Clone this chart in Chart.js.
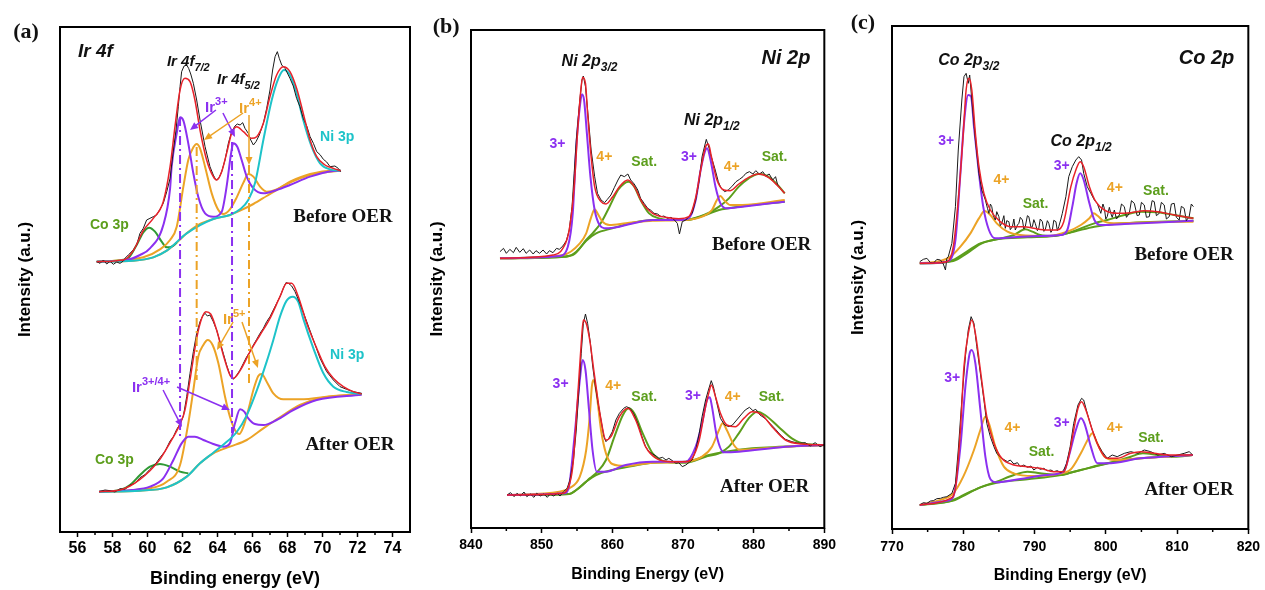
<!DOCTYPE html>
<html>
<head>
<meta charset="utf-8">
<title>XPS Ir 4f / Ni 2p / Co 2p</title>
<script src="https://cdn.jsdelivr.net/npm/chart.js@4.4.1/dist/chart.umd.min.js"></script>
<style>
  body { margin: 0; background: #fff; width: 1265px; height: 590px; position: relative; overflow: hidden; }
  .panel { position: absolute; top: 0; height: 590px; }
</style>
</head>
<body>
<div class="panel" style="left:0;width:420px"><canvas id="chartA"></canvas></div>
<div class="panel" style="left:420px;width:420px"><canvas id="chartB"></canvas></div>
<div class="panel" style="left:840px;width:425px"><canvas id="chartC"></canvas></div>
<script>
// ---- tick labels ----
const aTicks = [56, 58, 60, 62, 64, 66, 68, 70, 72, 74];
const aMinor = [57, 59, 61, 63, 65, 67, 69, 71, 73];
const bTicks = [840, 850, 860, 870, 880, 890];
const bMinor = [845, 855, 865, 875, 885];
const cTicks = [770, 780, 790, 800, 810, 820];
const cMinor = [775, 785, 795, 805, 815];

// ---- (a) Ir 4f, before OER  [eV, intensity] ----
const aBeforeRaw = [[57.10,811],[57.29,806],[57.48,816],[57.67,804],[57.86,812],[58.05,803],[58.24,810],[58.43,806],[58.62,813],[58.71,821],[58.90,831],[59.19,846],[59.38,861],[59.57,896],[59.76,911],[59.95,936],[60.14,941],[60.33,946],[60.52,951],[60.71,968],[60.90,986],[61.10,1021],[61.29,1061],[61.48,1146],[61.63,1206],[61.76,1276],[61.86,1336],[61.95,1381],[62.09,1398],[62.24,1401],[62.35,1391],[62.47,1374],[62.62,1346],[62.81,1296],[63.00,1236],[63.29,1156],[63.57,1096],[63.76,1071],[63.91,1056],[64.07,1061],[64.24,1081],[64.43,1116],[64.62,1166],[64.81,1201],[65.00,1218],[65.13,1224],[65.29,1221],[65.44,1228],[65.57,1211],[65.76,1196],[65.90,1176],[66.05,1161],[66.20,1171],[66.39,1191],[66.62,1226],[66.81,1271],[67.00,1326],[67.15,1386],[67.29,1426],[67.42,1441],[67.53,1421],[67.67,1401],[67.86,1391],[68.14,1361],[68.33,1338],[68.52,1301],[68.71,1276],[68.90,1241],[69.10,1218],[69.29,1186],[69.48,1166],[69.67,1141],[69.86,1132],[70.05,1118],[70.24,1110],[70.43,1096],[70.71,1098],[70.90,1091],[71.04,1081]];
const aBeforeFit = [[57.10,811],[58.62,816],[59.19,844],[59.76,904],[60.33,941],[60.90,991],[61.29,1096],[61.57,1216],[61.86,1326],[62.14,1361],[62.43,1351],[62.71,1296],[63.00,1206],[63.38,1116],[63.76,1066],[63.95,1056],[64.24,1081],[64.52,1136],[64.81,1196],[65.10,1216],[65.48,1201],[65.95,1181],[66.24,1186],[66.62,1226],[67.00,1306],[67.38,1371],[67.76,1396],[68.14,1381],[68.52,1331],[68.90,1256],[69.29,1176],[69.67,1126],[70.14,1101],[70.62,1091],[71.04,1084]];
const aBeforeIr3 = [[57.10,811],[58.81,816],[59.57,831],[60.14,851],[60.90,920],[61.29,1030],[61.38,1096],[61.67,1196],[61.86,1244],[62.05,1234],[62.33,1166],[62.62,1076],[62.90,1006],[63.29,956],[63.76,946],[64.24,961],[64.52,1036],[64.77,1134],[64.90,1166],[65.13,1156],[65.38,1116],[65.67,1066],[66.05,1031],[66.62,1016],[67.38,1026],[68.14,1041],[69.29,1066],[70.62,1083],[71.04,1084]];
const aBeforeIr4 = [[57.10,811],[59.76,824],[60.71,848],[61.29,876],[61.67,916],[62.05,1036],[62.33,1116],[62.62,1154],[62.81,1164],[63.00,1151],[63.29,1096],[63.67,1016],[64.05,966],[64.33,954],[64.71,968],[65.10,1004],[65.48,1048],[65.76,1074],[66.05,1066],[66.43,1036],[66.81,1021],[67.38,1028],[68.14,1051],[69.29,1074],[70.62,1084],[71.04,1084]];
const aBeforeCo = [[57.10,811],[58.81,818],[59.38,861],[59.76,899],[60.10,913],[60.43,901],[60.81,871],[61.10,854],[61.38,856],[61.67,868]];
const aBeforeNi = [[57.10,811],[59.19,814],[60.33,824],[61.10,844],[62.24,896],[63.76,939],[64.71,951],[65.29,968],[65.76,996],[66.14,1046],[66.62,1176],[67.10,1296],[67.48,1361],[67.80,1386],[68.14,1371],[68.52,1316],[68.90,1236],[69.38,1156],[69.86,1106],[70.43,1088],[71.04,1084]];
const aBeforeBg = [[57.10,811],[59.19,814],[60.33,824],[61.10,844],[61.67,868],[62.24,896],[63.00,924],[63.76,939],[64.71,951],[65.29,964],[66.05,984],[66.81,1008],[67.76,1038],[68.71,1061],[69.67,1076],[71.04,1084]];

// ---- (a) Ir 4f, after OER ----
const aAfterRaw = [[57.23,121],[57.57,126],[57.86,124],[58.14,120],[58.43,130],[58.71,128],[59.00,141],[59.29,146],[59.57,163],[59.86,172],[60.14,188],[60.43,202],[60.71,223],[61.00,242],[61.29,273],[61.48,286],[61.67,308],[61.86,324],[62.05,348],[62.24,406],[62.43,476],[62.62,541],[62.81,596],[63.00,631],[63.15,648],[63.29,656],[63.42,648],[63.57,651],[63.76,631],[63.95,606],[64.14,571],[64.33,536],[64.52,501],[64.71,471],[64.90,458],[65.10,471],[65.29,486],[65.48,506],[65.67,526],[65.86,541],[66.05,561],[66.24,578],[66.43,596],[66.62,611],[66.81,631],[67.00,646],[67.19,666],[67.38,686],[67.57,706],[67.76,731],[67.91,748],[68.06,746],[68.24,738],[68.43,721],[68.71,686],[69.10,631],[69.48,576],[69.86,521],[70.24,481],[70.62,456],[71.00,436],[71.38,428],[71.76,421],[72.24,416]];
const aAfterFit = [[57.23,121],[58.43,126],[59.00,138],[59.57,158],[60.14,184],[60.71,218],[61.29,268],[61.86,324],[62.14,366],[62.43,456],[62.81,581],[63.10,641],[63.34,661],[63.61,654],[63.95,606],[64.33,531],[64.71,471],[64.90,461],[65.29,484],[65.86,541],[66.43,591],[67.00,641],[67.57,706],[67.95,746],[68.24,746],[68.62,706],[69.10,626],[69.67,551],[70.14,496],[70.62,461],[71.19,436],[71.76,421],[72.24,414]];
const aAfterIr5 = [[57.23,121],[60.14,131],[61.10,151],[61.86,201],[62.33,326],[62.62,426],[62.90,526],[63.19,561],[63.44,576],[63.72,561],[64.05,506],[64.43,406],[64.71,346],[65.00,306],[65.24,294],[65.48,316],[65.76,366],[66.05,426],[66.33,468],[66.52,474],[66.81,451],[67.19,416],[67.76,398],[68.71,398],[70.62,408],[72.24,414]];
const aAfterIr34 = [[57.23,121],[59.10,126],[60.14,136],[60.90,161],[61.48,216],[61.95,266],[62.33,286],[62.71,286],[63.19,276],[63.76,264],[64.33,256],[64.71,266],[65.00,326],[65.29,368],[65.53,361],[65.76,341],[66.14,324],[66.62,321],[67.38,336],[68.33,366],[69.67,396],[72.24,412]];
const aAfterCo = [[57.23,121],[58.43,126],[59.00,141],[59.57,171],[60.14,196],[60.71,204],[61.29,196],[61.86,181],[62.33,176]];
const aAfterNi = [[57.23,121],[59.57,124],[61.10,134],[62.24,166],[63.00,206],[63.76,238],[64.33,262],[65.10,300],[65.67,350],[66.24,424],[66.81,511],[67.19,576],[67.57,646],[67.95,694],[68.30,706],[68.62,690],[68.90,640],[69.48,551],[70.05,476],[70.62,436],[71.38,420],[72.24,414]];
const aAfterBg = [[57.23,121],[59.57,124],[61.10,134],[62.24,166],[63.00,206],[63.76,236],[64.71,256],[65.67,276],[66.62,311],[67.76,351],[68.71,381],[69.86,401],[72.24,414]];

// ---- (b) Ni 2p, before OER ----
const bBeforeRaw = [[844.1,829],[844.6,839],[845.0,824],[845.5,836],[846.0,826],[846.4,842],[846.9,827],[847.4,838],[847.8,824],[848.3,834],[848.8,822],[849.2,832],[849.7,824],[850.2,834],[850.7,822],[851.1,832],[851.6,826],[852.1,839],[852.5,836],[853.0,846],[853.5,862],[853.9,894],[854.3,964],[854.6,1064],[854.9,1164],[855.4,1284],[855.7,1344],[855.9,1356],[856.2,1324],[856.5,1254],[857.0,1134],[857.5,1054],[857.9,1004],[858.4,984],[858.9,976],[859.3,986],[859.8,999],[860.3,1022],[860.8,1044],[861.2,1059],[861.7,1054],[862.2,1062],[862.6,1044],[863.1,1032],[863.6,1014],[864.0,989],[864.5,974],[865.0,959],[865.4,954],[865.9,944],[866.4,942],[866.9,934],[867.3,936],[867.8,929],[868.3,932],[868.7,926],[869.2,914],[869.5,882],[869.9,919],[870.4,924],[870.8,934],[871.3,944],[871.8,984],[872.3,1044],[872.7,1114],[873.1,1149],[873.3,1166],[873.7,1139],[874.0,1114],[874.5,1079],[875.0,1039],[875.4,1019],[875.9,1009],[876.4,1014],[876.9,1024],[877.5,1039],[878.0,1046],[878.5,1054],[878.9,1064],[879.4,1069],[879.9,1062],[880.3,1072],[880.8,1062],[881.3,1069],[881.7,1056],[882.2,1062],[882.7,1044],[883.1,1054],[883.4,1029],[883.9,1016],[884.4,1006]];
const bBeforeFit = [[844.1,809],[851.6,819],[853.0,839],[853.9,894],[854.6,1024],[855.1,1194],[855.5,1304],[855.8,1352],[856.2,1334],[856.5,1244],[857.0,1114],[857.5,1024],[858.4,979],[859.1,972],[860.0,992],[861.0,1024],[862.2,1044],[863.1,1024],[864.3,974],[865.7,944],[867.5,932],[869.4,928],[870.8,934],[871.8,992],[872.5,1074],[873.2,1144],[873.6,1152],[874.0,1116],[874.8,1044],[875.8,1014],[876.7,1012],[877.9,1032],[879.3,1052],[880.7,1062],[882.1,1052],[883.3,1029],[884.4,1004]];
const bBeforeNi3 = [[844.1,809],[852.5,816],[853.7,844],[854.4,944],[854.9,1144],[855.4,1264],[855.7,1301],[856.0,1284],[856.4,1184],[856.9,1054],[857.5,954],[858.2,909],[859.1,899],[861.0,904],[863.3,916],[865.7,924],[869.4,924],[870.8,929],[871.8,984],[872.5,1074],[873.1,1129],[873.4,1139],[873.9,1104],[874.6,1024],[875.3,974],[876.2,959],[878.4,964],[884.4,979]];
const bBeforeNi4 = [[844.1,809],[853.0,819],[855.4,854],[856.3,884],[857.0,932],[857.5,956],[857.9,944],[858.6,919],[859.6,909],[861.9,914],[865.7,922],[870.4,924],[872.7,934],[874.1,954],[874.8,984],[875.3,996],[875.8,984],[876.7,969],[878.4,969],[884.4,984]];
const bBeforeSat = [[844.1,809],[852.5,814],[854.4,819],[855.4,839],[856.3,864],[857.2,884],[858.4,916],[859.6,964],[860.8,1014],[861.7,1034],[862.3,1039],[863.1,1024],[864.0,984],[865.2,944],[866.6,929],[868.5,924],[870.4,924],[872.3,934],[873.7,946],[875.1,964],[876.5,989],[877.9,1024],[879.3,1049],[880.7,1062],[881.6,1059],[883.1,1036],[884.4,1004]];
const bBeforeBg = [[844.1,809],[853.5,814],[854.9,829],[856.3,862],[857.7,884],[860.0,899],[862.9,916],[865.7,924],[870.4,924],[873.2,939],[875.1,954],[877.9,964],[884.4,979]];

// ---- (b) Ni 2p, after OER ----
const bAfterRaw = [[845.1,99],[845.6,106],[846.1,94],[846.5,104],[847.0,96],[847.5,108],[847.9,94],[848.4,102],[848.9,92],[849.3,104],[849.8,96],[850.3,102],[850.8,92],[851.2,102],[851.7,96],[852.2,104],[852.6,96],[853.1,109],[853.6,119],[854.0,144],[854.5,204],[854.9,294],[855.3,424],[855.6,524],[855.9,614],[856.2,642],[856.5,614],[856.9,554],[857.2,489],[857.6,424],[857.9,384],[858.4,324],[858.8,274],[859.1,259],[859.5,269],[860.0,289],[860.5,324],[861.0,344],[861.6,359],[862.0,364],[862.5,359],[863.0,344],[863.6,314],[864.2,274],[864.7,244],[865.2,229],[865.7,222],[866.2,216],[866.6,209],[867.1,212],[867.6,204],[868.0,209],[868.5,202],[869.0,194],[869.4,196],[869.9,184],[870.4,189],[870.8,196],[871.3,204],[871.8,234],[872.3,284],[872.7,334],[873.2,384],[873.6,414],[874.0,442],[874.3,424],[874.8,374],[875.3,329],[875.9,309],[876.5,304],[877.0,309],[877.6,324],[878.3,342],[878.8,354],[879.4,362],[879.9,352],[880.3,356],[880.9,339],[881.6,329],[882.3,314],[883.1,296],[883.8,279],[884.5,266],[885.4,259],[886.4,254],[887.3,256],[888.0,246],[888.7,256],[889.4,244],[890.2,252]];
const bAfterFit = [[845.1,99],[853.0,104],[853.7,119],[854.4,184],[855.1,394],[855.6,554],[855.9,624],[856.3,614],[856.8,564],[857.5,454],[858.4,324],[859.1,264],[859.8,274],[861.0,334],[862.2,359],[863.3,324],[864.7,244],[866.2,209],[868.5,199],[870.4,199],[871.3,209],[872.3,264],[873.1,354],[873.7,409],[874.0,429],[874.6,394],[875.3,344],[876.2,309],[877.4,304],[878.6,329],[879.8,349],[881.2,339],[882.6,304],[884.5,264],[886.8,252],[890.2,249]];
const bAfterNi3 = [[845.1,99],[853.2,104],[853.9,129],[854.6,264],[855.4,444],[855.8,504],[856.2,474],[856.7,354],[857.2,234],[857.8,169],[859.1,169],[861.9,189],[865.7,199],[870.4,199],[871.8,244],[872.7,314],[873.4,384],[873.8,392],[874.1,364],[874.8,274],[875.8,227],[877.9,229],[884.5,244],[890.2,249]];
const bAfterNi4 = [[845.1,99],[852.5,109],[853.9,119],[855.4,154],[856.3,234],[856.8,334],[857.1,424],[857.3,444],[857.7,414],[858.4,294],[859.1,224],[860.0,192],[861.9,186],[865.7,196],[870.4,199],[872.7,214],[874.1,244],[875.1,294],[875.6,314],[876.2,294],[877.2,249],[878.1,234],[879.8,236],[884.5,244],[890.2,249]];
const bAfterSat = [[845.1,99],[853.9,102],[854.9,114],[855.8,129],[856.8,149],[857.9,169],[859.1,204],[860.3,274],[861.5,339],[862.3,359],[863.1,344],[864.3,284],[865.7,224],[867.6,199],[870.4,196],[873.2,214],[875.1,224],[876.5,244],[877.9,284],[879.3,329],[880.5,349],[881.6,339],[883.5,304],[885.4,269],[887.3,252],[890.2,249]];
const bAfterBg = [[845.1,99],[853.9,102],[854.9,114],[856.3,139],[857.7,159],[860.0,174],[862.9,186],[865.7,196],[870.4,199],[873.7,219],[876.0,229],[879.8,239],[890.2,249]];

// ---- (c) Co 2p, before OER ----
const cBeforeRaw = [[773.9,802],[774.4,809],[774.9,812],[775.4,799],[775.8,797],[776.3,809],[776.8,807],[777.2,795],[777.5,777],[777.7,812],[777.9,817],[778.4,857],[778.9,967],[779.3,1137],[779.8,1287],[780.1,1357],[780.4,1367],[780.7,1337],[780.9,1362],[781.2,1287],[781.7,1167],[782.2,1067],[782.6,1017],[783.1,987],[783.4,962],[783.6,947],[783.8,975],[784.0,967],[784.2,941],[784.5,927],[784.7,952],[785.0,937],[785.2,910],[785.4,917],[785.7,940],[785.9,902],[786.1,925],[786.4,922],[786.6,898],[786.9,907],[787.1,930],[787.3,897],[787.6,912],[787.8,917],[788.0,935],[788.3,927],[788.5,900],[788.7,907],[789.0,940],[789.2,937],[789.5,905],[789.7,907],[789.9,928],[790.1,917],[790.4,895],[790.6,902],[790.8,930],[791.1,922],[791.3,893],[791.5,897],[791.8,925],[792.0,917],[792.3,890],[792.5,897],[792.7,926],[793.0,922],[793.2,895],[793.4,907],[793.7,930],[793.9,947],[794.4,997],[794.8,1057],[795.3,1087],[795.8,1107],[796.2,1117],[796.6,1107],[796.9,1067],[797.4,1027],[797.9,1007],[798.4,987],[798.8,977],[799.3,947],[799.6,975],[799.8,962],[800.0,930],[800.2,937],[800.5,965],[800.7,947],[800.9,935],[801.2,957],[801.5,930],[801.9,942],[802.2,975],[802.6,967],[802.9,935],[803.3,947],[803.6,985],[804.0,977],[804.4,940],[804.7,942],[805.0,980],[805.4,972],[805.7,935],[806.1,937],[806.5,985],[806.8,982],[807.1,940],[807.5,947],[807.8,980],[808.2,972],[808.5,930],[808.9,937],[809.2,975],[809.6,977],[809.9,935],[810.3,927],[810.6,968],[811.0,962],[811.3,925],[811.7,937],[812.0,975],[812.3,967]];
const cBeforeFit = [[773.9,797],[777.7,802],[778.6,847],[779.3,987],[780.0,1187],[780.4,1317],[780.8,1352],[781.2,1317],[781.7,1187],[782.2,1087],[782.9,1007],[783.8,957],[785.2,922],[786.6,907],[788.5,907],[789.9,902],[791.8,897],[793.2,897],[794.1,922],[795.1,1027],[795.8,1077],[796.4,1102],[796.9,1087],[797.7,1027],[798.6,982],[799.8,957],[801.6,947],[803.5,949],[805.4,955],[807.3,952],[809.6,942],[812.3,932]];
const cBeforeCo3 = [[773.9,797],[777.7,802],[778.9,867],[779.6,1067],[780.1,1217],[780.7,1302],[781.1,1297],[781.5,1207],[782.2,1067],[782.8,967],[783.6,897],[784.5,872],[787.1,875],[790.8,879],[793.7,882],[794.6,897],[795.3,967],[795.9,1037],[796.4,1067],[796.9,1047],[797.7,977],[798.4,927],[799.3,912],[802.6,915],[809.6,922],[812.3,925]];
const cBeforeCo4 = [[773.9,797],[776.8,804],[778.2,817],[779.6,847],[781.0,887],[782.2,932],[783.0,954],[783.8,942],[784.7,917],[786.2,892],[788.0,882],[791.8,879],[794.6,892],[796.5,912],[797.7,932],[798.3,947],[798.9,939],[799.8,922],[801.6,917],[809.6,922],[812.3,922]];
const cBeforeSat = [[773.9,797],[776.8,799],[778.6,807],[780.5,832],[782.4,857],[784.7,869],[787.1,882],[788.7,899],[789.7,892],[790.8,882],[792.7,879],[794.6,887],[796.5,902],[798.4,917],[800.2,927],[802.6,942],[804.9,952],[807.3,950],[809.6,942],[812.3,932]];
const cBeforeBg = [[773.9,797],[778.6,804],[780.5,827],[782.4,855],[784.7,869],[789.0,875],[792.7,879],[795.5,892],[798.4,907],[801.2,915],[812.3,925]];

// ---- (c) Co 2p, after OER ----
const cAfterRaw = [[773.9,72],[774.4,79],[774.9,77],[775.4,84],[775.8,85],[776.3,91],[776.8,92],[777.2,95],[777.7,97],[778.4,107],[778.9,137],[779.3,237],[779.8,387],[780.3,517],[780.7,597],[781.1,637],[781.5,617],[781.9,547],[782.4,467],[782.9,387],[783.3,317],[783.8,277],[784.3,247],[784.7,227],[785.4,212],[786.2,202],[786.6,207],[787.1,195],[787.6,199],[788.0,187],[788.5,192],[789.0,185],[789.5,189],[789.9,177],[790.4,185],[790.8,179],[791.3,182],[791.8,175],[792.3,177],[792.7,172],[793.2,175],[793.7,169],[794.1,177],[794.5,197],[795.0,247],[795.5,317],[796.1,372],[796.6,392],[796.9,387],[797.4,347],[798.1,297],[798.8,257],[799.5,232],[800.2,212],[800.9,222],[801.6,217],[802.6,227],[803.5,232],[804.5,227],[805.4,237],[806.3,232],[807.3,222],[808.2,227],[809.2,217],[810.1,222],[811.0,227],[811.7,232],[812.2,222]];
const cAfterFit = [[773.9,72],[778.2,92],[778.9,122],[779.6,297],[780.1,487],[780.8,597],[781.2,627],[781.7,587],[782.4,477],[783.3,337],[784.3,257],[785.4,212],[787.1,192],[789.0,187],[790.8,182],[792.7,172],[794.1,172],[794.8,217],[795.5,297],[796.1,362],[796.6,382],[797.2,357],[798.1,297],[799.1,242],[800.2,212],[801.6,212],[803.5,227],[804.9,232],[806.8,227],[809.2,222],[812.2,222]];
const cAfterCo3 = [[773.9,72],[777.7,85],[778.6,97],[779.6,247],[780.3,427],[780.9,527],[781.2,537],[781.7,497],[782.4,357],[783.1,217],[783.8,150],[784.7,140],[788.0,150],[791.8,162],[794.1,172],[794.8,217],[795.8,297],[796.5,332],[797.0,317],[797.9,247],[798.8,197],[800.2,197],[804.9,212],[812.2,222]];
const cAfterCo4 = [[773.9,72],[776.8,87],[778.6,107],[780.0,157],[781.5,237],[782.4,297],[783.1,337],[783.6,317],[784.5,247],[785.7,187],[787.1,167],[789.9,159],[793.2,165],[795.1,179],[796.5,227],[797.7,277],[798.1,287],[798.8,257],[799.8,217],[801.2,207],[804.9,212],[812.2,222]];
const cAfterSat = [[773.9,72],[778.6,87],[780.5,107],[782.4,125],[784.7,142],[787.1,162],[789.0,172],[790.8,167],[793.7,162],[795.5,172],[798.4,187],[801.2,202],[803.5,217],[805.2,227],[807.3,222],[809.6,217],[812.2,222]];
const cAfterBg = [[773.9,72],[778.6,85],[780.5,105],[782.4,125],[784.7,139],[789.0,149],[793.7,162],[796.5,177],[800.2,197],[804.9,212],[812.2,222]];

const RED = '#e8222a', BLACK = '#1a1a1a', PURPLE = '#8b30f0', ORANGE = '#eca326',
      GREEN = '#5c9e1c', DGREEN = '#2f9a34', CYAN = '#1ec3c9';
const SANS = '"Liberation Sans", Arial, sans-serif';
const SERIF = '"Liberation Serif", "Times New Roman", serif';

function curve(points, color, width, smooth) {
  return {
    data: points.map(p => ({ x: p[0], y: p[1] })),
    borderColor: color,
    borderWidth: width,
    pointRadius: 0,
    fill: false,
    tension: 0,
    cubicInterpolationMode: smooth ? 'monotone' : 'default'
  };
}

function drawLabel(ctx, x, y, L) {
  const size = L.size || 14;
  const fam = L.serif ? SERIF : SANS;
  const mainFont = (L.italic ? 'italic ' : '') + 'bold ' + size + 'px ' + fam;
  const small = Math.round(size * 0.72);
  const smallFont = (L.italic ? 'italic ' : '') + 'bold ' + small + 'px ' + fam;
  ctx.font = mainFont;
  const w1 = ctx.measureText(L.text).width;
  let w2 = 0;
  const extra = L.sub || L.sup;
  if (extra) { ctx.font = smallFont; w2 = ctx.measureText(extra).width; }
  let x0 = x;
  if (L.align === 'center') x0 = x - (w1 + w2) / 2;
  else if (L.align === 'right') x0 = x - (w1 + w2);
  ctx.textAlign = 'left';
  ctx.textBaseline = 'middle';
  ctx.fillStyle = L.color || '#111';
  ctx.font = mainFont;
  ctx.fillText(L.text, x0, y);
  if (extra) {
    ctx.font = smallFont;
    ctx.fillText(extra, x0 + w1, L.sub ? y + size * 0.38 : y - size * 0.42);
  }
}

function arrow(ctx, x1, y1, x2, y2, color) {
  const ang = Math.atan2(y2 - y1, x2 - x1);
  ctx.strokeStyle = color; ctx.fillStyle = color; ctx.lineWidth = 1.5;
  ctx.beginPath(); ctx.moveTo(x1, y1); ctx.lineTo(x2 - 5 * Math.cos(ang), y2 - 5 * Math.sin(ang)); ctx.stroke();
  ctx.beginPath();
  ctx.moveTo(x2, y2);
  ctx.lineTo(x2 - 8 * Math.cos(ang) + 3.5 * Math.sin(ang), y2 - 8 * Math.sin(ang) - 3.5 * Math.cos(ang));
  ctx.lineTo(x2 - 8 * Math.cos(ang) - 3.5 * Math.sin(ang), y2 - 8 * Math.sin(ang) + 3.5 * Math.cos(ang));
  ctx.closePath(); ctx.fill();
}

const framePlugin = {
  id: 'frame',
  afterDatasetsDraw(chart, args, opts) {
    const { ctx, scales: { x, y } } = chart;
    ctx.save();
    (opts.guides || []).forEach(g => {
      ctx.strokeStyle = g.color; ctx.lineWidth = 2; ctx.setLineDash([9, 4, 2, 4]);
      ctx.beginPath();
      ctx.moveTo(x.getPixelForValue(g.x), y.getPixelForValue(g.y1));
      ctx.lineTo(x.getPixelForValue(g.x), y.getPixelForValue(g.y2));
      ctx.stroke();
    });
    ctx.setLineDash([]);
    (opts.arrows || []).forEach(a => {
      arrow(ctx, x.getPixelForValue(a.from[0]), y.getPixelForValue(a.from[1]),
        x.getPixelForValue(a.to[0]), y.getPixelForValue(a.to[1]), a.color);
    });
    ctx.restore();
  },
  afterDraw(chart, args, opts) {
    const { ctx, chartArea: area, scales: { x, y } } = chart;
    ctx.save();
    ctx.strokeStyle = '#000'; ctx.lineWidth = 2;
    ctx.strokeRect(area.left, area.top, area.right - area.left, area.bottom - area.top);
    ctx.lineWidth = 1.5;
    (opts.minor || []).forEach(v => {
      const px = x.getPixelForValue(v);
      ctx.beginPath(); ctx.moveTo(px, area.bottom); ctx.lineTo(px, area.bottom + 3); ctx.stroke();
    });
    (opts.labels || []).forEach(L => drawLabel(ctx, x.getPixelForValue(L.x), y.getPixelForValue(L.y), L));
    ctx.restore();
  }
};

function makePanel(P) {
  return new Chart(document.getElementById(P.el), {
    type: 'line',
    data: { datasets: P.datasets },
    plugins: [framePlugin],
    options: {
      responsive: true,
      maintainAspectRatio: false,
      animation: false,
      layout: { padding: P.padding },
      plugins: {
        legend: { display: false },
        tooltip: { enabled: false },
        frame: { minor: P.minor, labels: P.labels, arrows: P.arrows || [], guides: P.guides || [] }
      },
      scales: {
        x: {
          type: 'linear', min: P.xMin, max: P.xMax,
          afterBuildTicks: ax => { ax.ticks = P.ticks.map(v => ({ value: v })); },
          afterFit: ax => { ax.height = P.xHeight; },
          grid: { display: true, drawOnChartArea: false, drawTicks: true, tickLength: 5, tickColor: '#000', tickWidth: 1.5 },
          border: { display: false },
          ticks: { color: '#000', autoSkip: false, maxRotation: 0, padding: P.tickPad,
                   font: { family: SANS, size: P.tickSize, weight: 'bold' } },
          title: { display: true, text: P.xTitle, color: '#000',
                   font: { family: SANS, size: P.xTitleSize, weight: 'bold' },
                   padding: { top: 0, bottom: P.xTitlePad } }
        },
        y: {
          type: 'linear', min: 0, max: P.yMax,
          afterFit: ax => { ax.width = P.yWidth; },
          grid: { display: false },
          border: { display: false },
          ticks: { display: false },
          title: { display: true, text: 'Intensity (a.u.)', color: '#000',
                   font: { family: SANS, size: 17, weight: 'bold' },
                   padding: { top: P.yTitlePad, bottom: 0 } }
        }
      }
    }
  });
}

// (a)
makePanel({
  el: 'chartA', xMin: 55, xMax: 75, yMax: 1515, ticks: aTicks, minor: aMinor,
  padding: { left: 0, right: 10, top: 27, bottom: 0 }, yWidth: 60, xHeight: 58,
  tickSize: 16, tickPad: 2, xTitle: 'Binding energy (eV)', xTitleSize: 18, xTitlePad: 0, yTitlePad: 15,
  datasets: [
    curve(aBeforeFit, RED, 1.5, true), curve(aAfterFit, RED, 1.5, true),
    curve(aBeforeRaw, BLACK, 1, false), curve(aAfterRaw, BLACK, 1, false),
    curve(aBeforeNi, CYAN, 2, true), curve(aAfterNi, CYAN, 2, true),
    curve(aBeforeIr3, PURPLE, 2, true), curve(aAfterIr34, PURPLE, 2, true),
    curve(aBeforeIr4, ORANGE, 2, true), curve(aAfterIr5, ORANGE, 2, true),
    curve(aBeforeCo, DGREEN, 2, true), curve(aAfterCo, DGREEN, 2, true),
    curve(aBeforeBg, ORANGE, 2, true), curve(aAfterBg, ORANGE, 2, true)
  ],
  guides: [
    { x: 61.86, y1: 1245, y2: 285, color: PURPLE },
    { x: 64.83, y1: 1170, y2: 297, color: PURPLE },
    { x: 62.81, y1: 1155, y2: 456, color: ORANGE },
    { x: 65.80, y1: 1101, y2: 447, color: ORANGE }
  ],
  arrows: [
    { from: [63.91, 1266], to: [62.43, 1206], color: PURPLE },
    { from: [64.31, 1257], to: [65.00, 1185], color: PURPLE },
    { from: [65.46, 1257], to: [63.23, 1176], color: ORANGE },
    { from: [65.80, 1251], to: [65.80, 1101], color: ORANGE },
    { from: [64.89, 630], to: [63.97, 546], color: ORANGE },
    { from: [65.40, 630], to: [66.31, 492], color: ORANGE },
    { from: [60.89, 426], to: [61.97, 315], color: PURPLE },
    { from: [61.69, 435], to: [64.71, 366], color: PURPLE }
  ],
  labels: [
    { x: 53.06, y: 1500, text: '(a)', serif: true, size: 22, align: 'center' },
    { x: 56.03, y: 1440, text: 'Ir 4f', italic: true, size: 19 },
    { x: 61.11, y: 1410, text: 'Ir 4f', sub: '7/2', italic: true, size: 15 },
    { x: 63.97, y: 1356, text: 'Ir 4f', sub: '5/2', italic: true, size: 15 },
    { x: 63.29, y: 1272, text: 'Ir', sup: '3+', size: 15, color: PURPLE },
    { x: 65.23, y: 1269, text: 'Ir', sup: '4+', size: 15, color: ORANGE },
    { x: 69.86, y: 1185, text: 'Ni 3p', size: 14, color: CYAN },
    { x: 56.71, y: 921, text: 'Co 3p', size: 14, color: GREEN },
    { x: 71.17, y: 945, text: 'Before OER', serif: true, size: 19, align: 'center' },
    { x: 71.57, y: 261, text: 'After OER', serif: true, size: 19, align: 'center' },
    { x: 70.43, y: 531, text: 'Ni 3p', size: 14, color: CYAN },
    { x: 57.00, y: 216, text: 'Co 3p', size: 14, color: GREEN },
    { x: 64.31, y: 636, text: 'Ir', sup: '5+', size: 15, color: ORANGE },
    { x: 59.11, y: 432, text: 'Ir', sup: '3+/4+', size: 15, color: PURPLE }
  ]
});

// (b)
makePanel({
  el: 'chartB', xMin: 840, xMax: 890, yMax: 1494, ticks: bTicks, minor: bMinor,
  padding: { left: 0, right: 13, top: 30, bottom: 0 }, yWidth: 51, xHeight: 62,
  tickSize: 14, tickPad: 4, xTitle: 'Binding Energy (eV)', xTitleSize: 16, xTitlePad: 6, yTitlePad: 7,
  datasets: [
    curve(bBeforeFit, RED, 1.5, true), curve(bAfterFit, RED, 1.5, true),
    curve(bBeforeRaw, BLACK, 1, false), curve(bAfterRaw, BLACK, 1, false),
    curve(bBeforeNi3, PURPLE, 2, true), curve(bAfterNi3, PURPLE, 2, true),
    curve(bBeforeNi4, ORANGE, 2, true), curve(bAfterNi4, ORANGE, 2, true),
    curve(bBeforeSat, GREEN, 2, true), curve(bAfterSat, GREEN, 2, true),
    curve(bBeforeBg, GREEN, 2, true), curve(bAfterBg, GREEN, 2, true)
  ],
  labels: [
    { x: 836.48, y: 1503, text: '(b)', serif: true, size: 22, align: 'center' },
    { x: 888.03, y: 1410, text: 'Ni 2p', italic: true, size: 20, align: 'right' },
    { x: 852.82, y: 1398, text: 'Ni 2p', sub: '3/2', italic: true, size: 16 },
    { x: 870.14, y: 1221, text: 'Ni 2p', sub: '1/2', italic: true, size: 16 },
    { x: 852.25, y: 1152, text: '3+', size: 14, color: PURPLE, align: 'center' },
    { x: 858.87, y: 1113, text: '4+', size: 14, color: ORANGE, align: 'center' },
    { x: 864.51, y: 1098, text: 'Sat.', size: 14, color: GREEN, align: 'center' },
    { x: 870.85, y: 1113, text: '3+', size: 14, color: PURPLE, align: 'center' },
    { x: 876.90, y: 1083, text: '4+', size: 14, color: ORANGE, align: 'center' },
    { x: 882.96, y: 1113, text: 'Sat.', size: 14, color: GREEN, align: 'center' },
    { x: 881.13, y: 849, text: 'Before OER', serif: true, size: 19, align: 'center' },
    { x: 852.68, y: 432, text: '3+', size: 14, color: PURPLE, align: 'center' },
    { x: 860.14, y: 426, text: '4+', size: 14, color: ORANGE, align: 'center' },
    { x: 864.51, y: 393, text: 'Sat.', size: 14, color: GREEN, align: 'center' },
    { x: 871.41, y: 396, text: '3+', size: 14, color: PURPLE, align: 'center' },
    { x: 877.04, y: 393, text: '4+', size: 14, color: ORANGE, align: 'center' },
    { x: 882.54, y: 393, text: 'Sat.', size: 14, color: GREEN, align: 'center' },
    { x: 881.55, y: 123, text: 'After OER', serif: true, size: 19, align: 'center' }
  ]
});

// (c)
makePanel({
  el: 'chartC', xMin: 770, xMax: 820, yMax: 1509, ticks: cTicks, minor: cMinor,
  padding: { left: 0, right: 16, top: 26, bottom: 0 }, yWidth: 52, xHeight: 61,
  tickSize: 14, tickPad: 5, xTitle: 'Binding Energy (eV)', xTitleSize: 16, xTitlePad: 5, yTitlePad: 8,
  datasets: [
    curve(cBeforeFit, RED, 1.5, true), curve(cAfterFit, RED, 1.5, true),
    curve(cBeforeRaw, BLACK, 1, false), curve(cAfterRaw, BLACK, 1, false),
    curve(cBeforeCo3, PURPLE, 2, true), curve(cAfterCo3, PURPLE, 2, true),
    curve(cBeforeCo4, ORANGE, 2, true), curve(cAfterCo4, ORANGE, 2, true),
    curve(cBeforeSat, GREEN, 2, true), curve(cAfterSat, GREEN, 2, true),
    curve(cBeforeBg, GREEN, 2, true), curve(cAfterBg, GREEN, 2, true)
  ],
  labels: [
    { x: 765.92, y: 1518, text: '(c)', serif: true, size: 22, align: 'center' },
    { x: 818.03, y: 1413, text: 'Co 2p', italic: true, size: 20, align: 'right' },
    { x: 776.48, y: 1404, text: 'Co 2p', sub: '3/2', italic: true, size: 16 },
    { x: 792.25, y: 1161, text: 'Co 2p', sub: '1/2', italic: true, size: 16 },
    { x: 777.61, y: 1164, text: '3+', size: 14, color: PURPLE, align: 'center' },
    { x: 785.35, y: 1047, text: '4+', size: 14, color: ORANGE, align: 'center' },
    { x: 790.14, y: 975, text: 'Sat.', size: 14, color: GREEN, align: 'center' },
    { x: 793.80, y: 1089, text: '3+', size: 14, color: PURPLE, align: 'center' },
    { x: 801.27, y: 1023, text: '4+', size: 14, color: ORANGE, align: 'center' },
    { x: 807.04, y: 1014, text: 'Sat.', size: 14, color: GREEN, align: 'center' },
    { x: 810.99, y: 822, text: 'Before OER', serif: true, size: 19, align: 'center' },
    { x: 778.45, y: 453, text: '3+', size: 14, color: PURPLE, align: 'center' },
    { x: 786.90, y: 303, text: '4+', size: 14, color: ORANGE, align: 'center' },
    { x: 790.99, y: 231, text: 'Sat.', size: 14, color: GREEN, align: 'center' },
    { x: 793.80, y: 318, text: '3+', size: 14, color: PURPLE, align: 'center' },
    { x: 801.27, y: 303, text: '4+', size: 14, color: ORANGE, align: 'center' },
    { x: 806.34, y: 273, text: 'Sat.', size: 14, color: GREEN, align: 'center' },
    { x: 811.69, y: 117, text: 'After OER', serif: true, size: 19, align: 'center' }
  ]
});
</script>
</body>
</html>
